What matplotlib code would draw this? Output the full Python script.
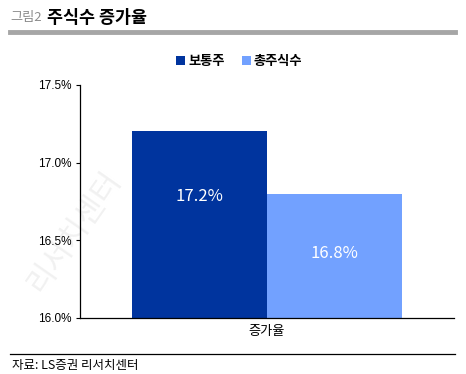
import matplotlib.pyplot as plt
import numpy as np

plt.rcParams['font.family'] = ['Noto Sans CJK KR', 'DejaVu Sans']

categories = ['증가율']
series_names = ['보통주', '총주식수']
values = [17.2, 16.8]
colors = ['#00349e', '#72a1ff']
yticks = [16.0, 16.5, 17.0, 17.5]

fig = plt.figure(figsize=(4.66, 3.74), dpi=100)

# ---- header / footer
fig.text(0.022, 0.953, '그림2', fontsize=9.5, color='#8c8c8c', va='center')
fig.text(0.100, 0.953, '주식수 증가율', fontsize=12.5, color='black', va='center', fontweight='bold')
fig.add_artist(plt.Line2D([0.022, 0.977], [0.914, 0.914], color='#a6a6a6', linewidth=3.5))
fig.add_artist(plt.Line2D([0.022, 0.977], [0.053, 0.053], color='black', linewidth=0.9))
fig.text(0.026, 0.024, '자료: LS증권 리서치센터', fontsize=9, color='black', va='center')

# ---- watermark (faint, behind the axes)
fig.text(0.16, 0.38, '리서치센터', fontsize=22, color='#f1f1f1', rotation=55,
         ha='center', va='center', zorder=-1)

ax = fig.add_axes([0.172, 0.150, 0.802, 0.623])
width = 0.36
x = np.arange(len(categories))
offsets = [-width / 2, width / 2]
label_frac = [0.65, 0.52]
for name, val, color, off, fr in zip(series_names, values, colors, offsets, label_frac):
    ax.bar(x + off, [val - 16.0], bottom=16.0, width=width, color=color, label=name, zorder=2)
    ax.text(x[0] + off, 16.0 + (val - 16.0) * fr, f'{val:.1f}%', ha='center', va='center',
            color='white', fontsize=12)

ax.set_ylim(16.0, 17.5)
ax.set_xlim(-0.5, 0.5)
ax.set_yticks(yticks)
ax.set_yticklabels([f'{t:.1f}%' for t in yticks], family=['Liberation Sans'], fontsize=8.5)
ax.set_xticks(x)
ax.set_xticklabels(categories, fontsize=9.5)
ax.tick_params(axis='x', length=0, pad=5)
ax.tick_params(axis='y', length=3, direction='out', width=0.8)
for s in ['top', 'right']:
    ax.spines[s].set_visible(False)
ax.spines['left'].set_linewidth(0.9)
ax.spines['bottom'].set_linewidth(0.9)
ax.patch.set_alpha(0)

ax.legend(loc='lower center', bbox_to_anchor=(0.425, 1.02), ncol=2, frameon=False,
          handlelength=0.7, handleheight=0.7, handletextpad=0.2,
          columnspacing=1.3, prop={'weight': 'bold', 'size': 9.5})

fig.savefig('out.png', dpi=100)
